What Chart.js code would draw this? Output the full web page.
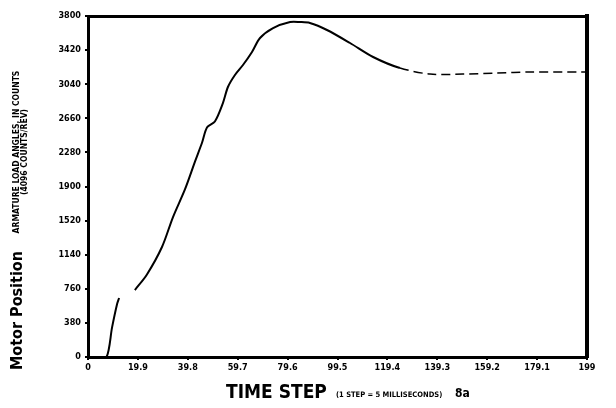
<!DOCTYPE html>
<html>
<head>
<meta charset="utf-8">
<script src="https://cdn.jsdelivr.net/npm/chart.js@4/dist/chart.umd.min.js"></script>
<style>
  html, body { margin: 0; padding: 0; background: #fff; }
  #wrap { width: 616px; height: 408px; }
</style>
</head>
<body>
<div id="wrap"><canvas id="motorChart" width="616" height="408"></canvas></div>
<script>
// time step values (x) and motor position in counts (y)
var timeSteps = [0, 4, 7.4, 9.6, 11.6, 12.4, 13, 18.7, 23.5, 29.5, 33.9, 38.7, 42.7, 45.5, 47.5, 50.6, 53.8, 55.8, 58.6, 61.8, 65.4, 68.6, 73.8, 80.6, 84.5, 88.5, 95.3, 104.5, 113.7, 124.4, 136.4, 149.5, 163.1, 176.3, 196.2, 199];
var motorPosition = [0, 0, 0, 330, 590, 657, null, 746, 920, 1226, 1560, 1870, 2180, 2390, 2560, 2625, 2830, 3009, 3143, 3254, 3399, 3555, 3666, 3733, 3733, 3722, 3644, 3499, 3343, 3220, 3153, 3153, 3165, 3176, 3176, 3176];

var xTickValues = [0, 19.9, 39.8, 59.7, 79.6, 99.5, 119.4, 139.3, 159.2, 179.1, 199];
var yTickValues = [0, 380, 760, 1140, 1520, 1900, 2280, 2660, 3040, 3420, 3800];

var tickFont = { family: "DejaVu Sans Condensed", size: 9, weight: "bold" };

// axis titles have mixed sizes, so draw them by hand
var axisTitles = {
  id: "axisTitles",
  afterDraw: function(chart) {
    var c = chart.ctx;
    c.save();
    c.fillStyle = "#000";
    c.textBaseline = "alphabetic";
    c.font = "bold 19px 'DejaVu Sans Condensed'";
    c.fillText("TIME STEP", 226, 398);
    c.font = "bold 7.5px 'DejaVu Sans Condensed'";
    c.fillText("(1 STEP = 5 MILLISECONDS)", 336, 397);
    c.font = "bold 12px 'DejaVu Sans Condensed'";
    c.fillText("8a", 455, 397);

    c.translate(22, 370);
    c.rotate(-Math.PI / 2);
    c.font = "bold 16px 'DejaVu Sans Condensed'";
    c.fillText("Motor Position", 0, 0);
    c.textAlign = "center";
    c.font = "bold 8.5px 'DejaVu Sans Condensed'";
    c.fillText("ARMATURE LOAD ANGLES, IN COUNTS", 218, -3);
    c.fillText("(4096 COUNTS/REV)", 218, 5);
    c.restore();
  }
};

new Chart(document.getElementById("motorChart").getContext("2d"), {
  type: "line",
  data: {
    datasets: [{
      data: timeSteps.map(function(t, i) { return { x: t, y: motorPosition[i] }; }),
      borderColor: "#000",
      borderWidth: 2,
      pointRadius: 0,
      tension: 0.3,
      spanGaps: false,
      fill: false,
      segment: {
        borderDash: function(ctx) { return ctx.p0.parsed.x >= 124 ? [9, 5] : undefined; },
        borderWidth: function(ctx) { return ctx.p0.parsed.x >= 124 ? 1.5 : 2; }
      }
    }]
  },
  options: {
    responsive: false,
    animation: false,
    layout: { padding: { left: 0, top: 16, right: 29, bottom: 0 } },
    plugins: { legend: { display: false }, tooltip: { enabled: false } },
    scales: {
      x: {
        type: "linear",
        min: 0,
        max: 199,
        afterBuildTicks: function(s) { s.ticks = xTickValues.map(function(v) { return { value: v }; }); },
        afterFit: function(s) { s.height = 51; },
        ticks: {
          color: "#000",
          font: tickFont,
          padding: 2,
          maxRotation: 0,
          autoSkip: false,
          callback: function(v) { return String(v); }
        },
        grid: { drawOnChartArea: false, tickLength: 3, color: "#000", lineWidth: 2 },
        border: { color: "#000", width: 3, dash: [10, 3] }
      },
      xTop: {
        type: "linear",
        position: "top",
        min: 0,
        max: 199,
        afterFit: function(s) { s.height = 0; },
        ticks: { display: false },
        grid: { display: false },
        border: { color: "#000", width: 3, dash: [22, 6] }
      },
      y: {
        min: 0,
        max: 3800,
        afterBuildTicks: function(s) { s.ticks = yTickValues.map(function(v) { return { value: v }; }); },
        afterFit: function(s) { s.width = 88; },
        ticks: {
          color: "#000",
          font: tickFont,
          padding: 4,
          callback: function(v) { return String(v); }
        },
        grid: { drawOnChartArea: false, tickLength: 3, color: "#000", lineWidth: 2 },
        border: { color: "#000", width: 3 }
      },
      yRight: {
        position: "right",
        min: 0,
        max: 3800,
        afterFit: function(s) { s.width = 0; },
        ticks: { display: false },
        grid: { display: false },
        border: { color: "#000", width: 4 }
      }
    }
  },
  plugins: [axisTitles]
});
</script>
</body>
</html>
